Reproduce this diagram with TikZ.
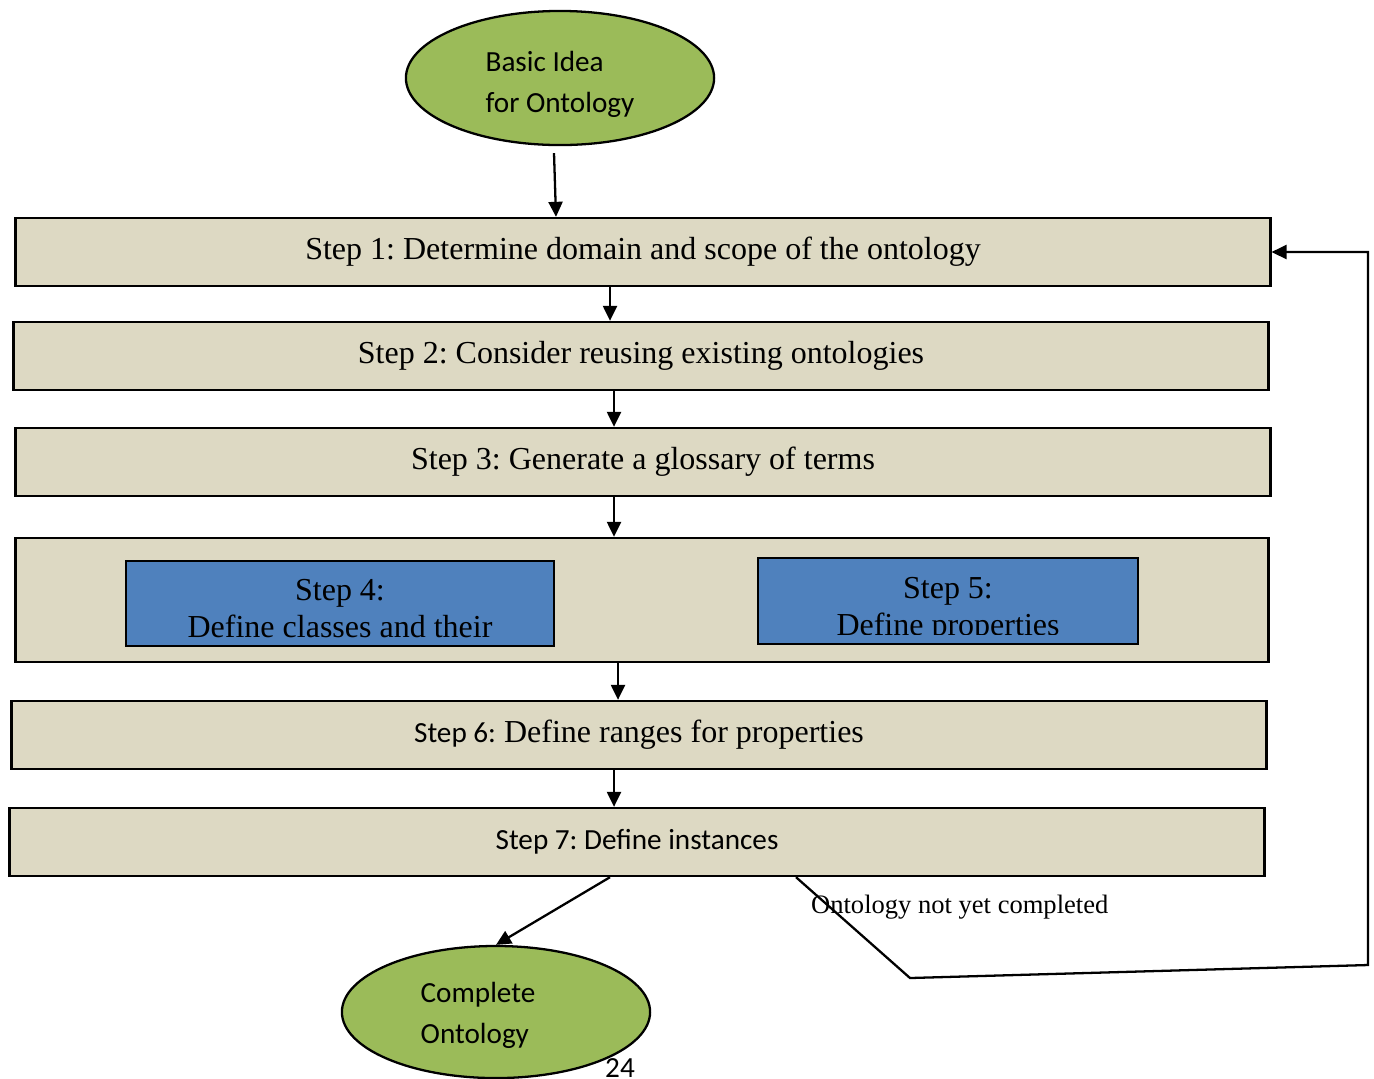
\documentclass[tikz,border=0pt]{standalone}
\usepackage{fontspec}
\setmainfont{Liberation Serif}
\newfontfamily\calibri{Carlito}
\usetikzlibrary{shapes.geometric,arrows.meta,calc}
\definecolor{stagefill}{HTML}{DDD9C3}
\definecolor{leaf}{HTML}{9BBB59}
\definecolor{steel}{HTML}{4F81BD}
\frenchspacing

\begin{document}
\begin{tikzpicture}[x=0.01cm,y=-0.01cm,
  line width=0.65pt,
  stage/.style={draw=black, fill=stagefill, rectangle, minimum width=12.54cm,
    minimum height=0.68cm, inner sep=0pt, font=\fontsize{9.1}{11}\selectfont,
    preaction={fill=black!45, transform canvas={xshift=0.012cm, yshift=-0.012cm}}},
  task/.style={draw=black, fill=steel, rectangle, inner sep=0pt},
  blob/.style={draw=black, fill=leaf, ellipse, minimum width=3.08cm,
    minimum height=1.34cm, inner sep=0pt},
  arr/.style={-{Triangle[length=0.15cm,width=0.14cm]}, line width=0.65pt},
  sans/.style={font=\calibri\fontsize{8.3}{11.7}\selectfont},
  tasktext/.style={align=center, inner sep=0pt, font=\fontsize{9.1}{10.5}\selectfont},
]
\useasboundingbox (0,0) rectangle (1374,1078);
\clip (0,0) rectangle (1374,1078);

% start and end states
\node[blob] (idea) at (560,78) {};
\node[sans, align=left, inner sep=0pt] (ideatxt) at (560,84) {Basic Idea\\for Ontology};
\node[blob, minimum height=1.32cm] (done) at (496,1012) {};
\node[sans, align=left, inner sep=0pt] (donetxt) at (478,1015) {Complete\\Ontology};
\node[sans, inner sep=0pt] (page) at (620,1068) {24};

% process steps
\node[stage] (s1) at (643,252) {Step 1: Determine domain and scope of the ontology};
\node[stage] (s2) at (641,356) {Step 2: Consider reusing existing ontologies};
\node[stage] (s3) at (643,462) {Step 3: Generate a glossary of terms};
\node[stage, minimum width=12.52cm, minimum height=1.24cm] (s45) at (642,600) {};
\node[task, minimum width=4.28cm, minimum height=0.85cm] (s4) at (340,603.5) {};
\node[task, minimum width=3.80cm, minimum height=0.86cm] (s5) at (948,601) {};
\begin{scope}
  \clip (s4.north west) rectangle ($(s4.south east)+(0,-10)$);
  \node[tasktext] (t4) at (340,609) {Step 4:\\Define classes and their};
\end{scope}
\begin{scope}
  \clip (s5.north west) rectangle ($(s5.south east)+(0,-11)$);
  \node[tasktext] (t5) at (948,610) {Step 5:\\Define properties};
\end{scope}
\node[stage] (s6) at (639,735) {{\calibri\fontsize{8.3}{11}\selectfont Step 6:} Define ranges for properties};
\node[stage, sans] (s7) at (637,842) {Step 7: Define instances};

% flow
\draw[arr] ($(idea.south)+(-6,7)$) -- ($(idea.south |- s1.north)+(-4,0)$);
\draw[arr] ($(s1.south)+(-33,0)$) -- ($(s1.south |- s2.north)+(-33,0)$);
\draw[arr] ($(s2.south)+(-27,0)$) -- ($(s2.south |- s3.north)+(-27,0)$);
\draw[arr] ($(s3.south)+(-29,0)$) -- ($(s3.south |- s45.north)+(-29,0)$);
\draw[arr] ($(s45.south)+(-24,0)$) -- ($(s45.south |- s6.north)+(-24,0)$);
\draw[arr] ($(s6.south)+(-25,-2)$) -- ($(s6.south |- s7.north)+(-25,0)$);
\draw[arr] ($(s7.south)+(-27,0)$) -- (done.north);

% loop back while the ontology is unfinished
\coordinate (k1) at (910,978);
\coordinate (k2) at (1368,965);
\draw[arr] ($(s7.south)+(159,0)$) -- (k1) -- (k2) -- (k2 |- s1.east) -- (s1.east);
\node[font=\fontsize{7.55}{9}\selectfont, anchor=west, inner sep=0pt] (note) at (810,907) {Ontology not yet completed};
\end{tikzpicture}
\end{document}
